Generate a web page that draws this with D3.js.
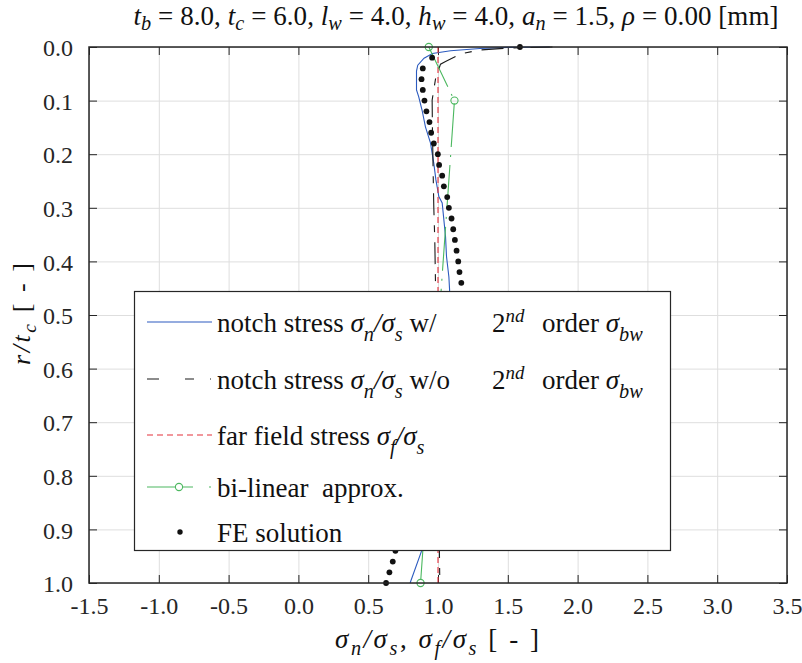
<!DOCTYPE html>
<head>
  <meta charset="utf-8">
  <script src="https://d3js.org/d3.v7.min.js"></script>
  <style>
    body { margin: 0; background: white; }
    svg { font-family: "Liberation Serif", serif; }
    .grid line { stroke: #dedede; stroke-width: 1px; }
    .grid path { display: none; }
    .ax path { display: none; }
    .ax line { stroke: #262626; stroke-width: 1px; }
    .ax text { font-size: 24px; fill: #262626; font-family: "Liberation Serif", serif; }
  </style>
</head>
<body>
<script>
// tick labels
var xTicks = [-1.5, -1.0, -0.5, 0.0, 0.5, 1.0, 1.5, 2.0, 2.5, 3.0, 3.5];
var yTicks = [0.0, 0.1, 0.2, 0.3, 0.4, 0.5, 0.6, 0.7, 0.8, 0.9, 1.0];

// notch stress w/ 2nd order [sigma_n/sigma_s, r/tc]
var notchWith = [[1.80,0.0],[1.50,0.0007],[1.30,0.0028],[1.09,0.007],[0.96,0.012],[0.90,0.021],
  [0.855,0.034],[0.846,0.045],[0.846,0.080],[0.862,0.093],[0.886,0.118],[0.910,0.149],[0.946,0.179],
  [0.970,0.217],[0.985,0.248],[0.994,0.261],[1.006,0.279],[1.030,0.291],[1.054,0.354],[1.061,0.391],
  [1.078,0.429],[1.083,0.453],[1.080,0.55],[1.030,0.70],[0.950,0.85],[0.880,0.942],[0.800,1.0]];

// notch stress w/o 2nd order
var notchWithout = [[1.82,0.0],[1.50,0.002],[1.30,0.0056],[1.16,0.013],[1.054,0.027],[1.018,0.032],
  [0.982,0.060],[0.958,0.099],[0.960,0.150],[0.965,0.230],[0.970,0.300],[0.977,0.360],[0.982,0.440],
  [0.990,0.60],[1.000,0.80],[1.010,0.94],[1.013,1.0]];

// far field stress
var farField = [[1.0,0.0],[1.0,1.0]];

// bi-linear approx
var biLinear = [[0.934,0.0],[1.118,0.1],[0.875,1.0]];

// FE solution
var feR = [0.00,0.02,0.04,0.06,0.08,0.10,0.12,0.14,0.16,0.18,0.20,0.22,0.24,0.26,0.28,0.30,0.32,0.34,0.36,0.38,0.40,0.42,0.44,
  0.94,0.96,0.98,1.00];
var feX = [1.587,0.958,0.891,0.882,0.891,0.903,0.917,0.939,0.951,0.970,0.999,1.008,1.030,1.042,1.066,1.078,1.097,1.109,1.121,1.133,1.145,1.154,1.167,
  0.695,0.676,0.652,0.628];

var W = 802, H = 663;
var pl = 89, pr = 787, pt = 47, pb = 583;

var svg = d3.select("body").append("svg")
  .attr("width", W)
  .attr("height", H);

var x = d3.scaleLinear().domain([-1.5, 3.5]).range([pl, pr]);
var y = d3.scaleLinear().domain([0, 1]).range([pt, pb]);

// grid
svg.append("g").attr("class", "grid")
  .attr("transform", "translate(0," + pt + ")")
  .call(d3.axisTop(x).tickValues(xTicks).tickSize(-(pb - pt)).tickFormat(""));
svg.append("g").attr("class", "grid")
  .attr("transform", "translate(" + pl + ",0)")
  .call(d3.axisLeft(y).tickValues(yTicks).tickSize(-(pr - pl)).tickFormat(""));

// axes with inside ticks
var fmt = d3.format(".1f");
svg.append("g").attr("class", "ax")
  .attr("transform", "translate(0," + pb + ")")
  .call(d3.axisBottom(x).tickValues(xTicks).tickSizeInner(-8).tickSizeOuter(0).tickPadding(14)
    .tickFormat(function(d) { return fmt(d).replace("\u2212", "-"); }));
svg.append("g").attr("class", "ax")
  .attr("transform", "translate(0," + pt + ")")
  .call(d3.axisTop(x).tickValues(xTicks).tickSizeInner(-8).tickSizeOuter(0).tickFormat(""));
svg.append("g").attr("class", "ax yax")
  .attr("transform", "translate(" + pl + ",0)")
  .call(d3.axisLeft(y).tickValues(yTicks).tickSizeInner(-8).tickSizeOuter(0).tickPadding(16).tickFormat(fmt));
svg.append("g").attr("class", "ax")
  .attr("transform", "translate(" + pr + ",0)")
  .call(d3.axisRight(y).tickValues(yTicks).tickSizeInner(-8).tickSizeOuter(0).tickFormat(""));

svg.selectAll(".yax .tick text").attr("dy", "0.36em");

var line = d3.line().x(function(d) { return x(d[0]); }).y(function(d) { return y(d[1]); });

var plot = svg.append("g");
plot.append("path").datum(notchWith).attr("d", line)
  .attr("fill", "none").attr("stroke", "#2c5bbf").attr("stroke-width", 1.1);
plot.append("path").datum(notchWithout).attr("d", line)
  .attr("fill", "none").attr("stroke", "#1a1a1a").attr("stroke-width", 1.1)
  .attr("stroke-dasharray", "22,10,7,10");
plot.append("path").datum(farField).attr("d", line)
  .attr("fill", "none").attr("stroke", "#e4303b").attr("stroke-width", 1.1)
  .attr("stroke-dasharray", "6,4");
plot.append("path").datum(biLinear).attr("d", line)
  .attr("fill", "none").attr("stroke", "#4cb860").attr("stroke-width", 1.1)
  .attr("stroke-dasharray", "44,8,2,8");
plot.selectAll("circle.bl").data(biLinear).enter().append("circle")
  .attr("class", "bl")
  .attr("cx", function(d) { return x(d[0]); })
  .attr("cy", function(d) { return y(d[1]); })
  .attr("r", 3.6)
  .attr("fill", "none").attr("stroke", "#4cb860").attr("stroke-width", 1.1);
plot.selectAll("circle.fe").data(feR).enter().append("circle")
  .attr("class", "fe")
  .attr("cx", function(d, i) { return x(feX[i]); })
  .attr("cy", function(d) { return y(d); })
  .attr("r", 2.9)
  .attr("fill", "#111");

// frame
svg.append("rect")
  .attr("x", pl).attr("y", pt)
  .attr("width", pr - pl).attr("height", pb - pt)
  .attr("fill", "none").attr("stroke", "#262626").attr("stroke-width", 1.5);

// rich text helper: parts = [text, kind, x]  kind: "" roman, "i" italic, "sub", "sup"
function rich(g, parts, subShift) {
  var shift = 0;
  parts.forEach(function(p) {
    var t = g.append("tspan").text(p[0]);
    var target = 0;
    if (p[1] === "i") t.attr("font-style", "italic");
    if (p[1] === "sub") { t.attr("font-style", "italic").attr("font-size", "0.75em"); target = subShift || 7; }
    if (p[1] === "sup") { t.attr("font-style", "italic").attr("font-size", "0.7em"); target = -10; }
    if (target !== shift) t.attr("dy", target - shift);
    shift = target;
    if (p[2] !== undefined) t.attr("x", p[2]);
  });
}

// title
var title = svg.append("text")
  .attr("x", 456).attr("y", 25)
  .attr("text-anchor", "middle")
  .attr("font-size", 27).attr("fill", "#111")
  .attr("textLength", 645).attr("lengthAdjust", "spacing");
rich(title, [["t","i"],["b","sub"],[" = 8.0, ",""],["t","i"],["c","sub"],[" = 6.0, ",""],
  ["l","i"],["w","sub"],[" = 4.0, ",""],["h","i"],["w","sub"],[" = 4.0, ",""],
  ["a","i"],["n","sub"],[" = 1.5, ",""],["\u03c1","i"],[" = 0.00 [mm]",""]], 5);

// x label
var xl = svg.append("text")
  .attr("x", 437).attr("y", 648)
  .attr("text-anchor", "middle")
  .attr("font-size", 27).attr("fill", "#111")
  .attr("textLength", 204).attr("lengthAdjust", "spacing");
rich(xl, [["\u03c3","i"],["n","sub"],["/","i"],["\u03c3","i"],["s","sub"],[", ",""],["\u03c3","i"],["f","sub"],["/","i"],["\u03c3","i"],["s","sub"],[" [ - ]",""]], 7);

// y label
var yl = svg.append("text")
  .attr("transform", "translate(30,314) rotate(-90)")
  .attr("text-anchor", "middle")
  .attr("font-size", 26).attr("fill", "#111")
  .attr("textLength", 102).attr("lengthAdjust", "spacing");
rich(yl, [["r/t","i"],["c","sub"],[" [ - ]",""]], 6);

// legend
var lg = svg.append("g");
lg.append("rect")
  .attr("x", 134.5).attr("y", 291.5).attr("width", 536).attr("height", 259)
  .attr("fill", "white").attr("stroke", "#262626").attr("stroke-width", 1.2);

var rowY = [322, 379, 435, 487, 532];
var lx0 = 147, lx1 = 212, tx = 217;

lg.append("line").attr("x1", lx0).attr("x2", lx1).attr("y1", rowY[0]).attr("y2", rowY[0])
  .attr("stroke", "#2c5bbf").attr("stroke-width", 1.1);
lg.append("line").attr("x1", lx0).attr("x2", lx1).attr("y1", rowY[1]).attr("y2", rowY[1])
  .attr("stroke", "#1a1a1a").attr("stroke-width", 1.1).attr("stroke-dasharray", "12,26,9,16,1,10");
lg.append("line").attr("x1", lx0).attr("x2", lx1).attr("y1", rowY[2]).attr("y2", rowY[2])
  .attr("stroke", "#e4303b").attr("stroke-width", 1.1).attr("stroke-dasharray", "6,4");
lg.append("line").attr("x1", lx0).attr("x2", lx1).attr("y1", rowY[3]).attr("y2", rowY[3])
  .attr("stroke", "#4cb860").attr("stroke-width", 1.1).attr("stroke-dasharray", "46,16,2,10");
lg.append("circle").attr("cx", 179).attr("cy", rowY[3]).attr("r", 3.6)
  .attr("fill", "white").attr("stroke", "#4cb860").attr("stroke-width", 1.1);
lg.append("circle").attr("cx", 180).attr("cy", rowY[4]).attr("r", 2.7).attr("fill", "#111");

var labels = [
  [["notch stress ",""],["\u03c3","i"],["n","sub"],["/\u03c3","i"],["s","sub"],[" w/",""],["2","",492],["nd","sup"],["order ","",542],["\u03c3","i"],["bw","sub"]],
  [["notch stress ",""],["\u03c3","i"],["n","sub"],["/\u03c3","i"],["s","sub"],[" w/o",""],["2","",492],["nd","sup"],["order ","",542],["\u03c3","i"],["bw","sub"]],
  [["far field stress ",""],["\u03c3","i"],["f","sub"],["/\u03c3","i"],["s","sub"]],
  [["bi-linear  approx.",""]],
  [["FE solution",""]]
];
labels.forEach(function(parts, i) {
  var t = lg.append("text")
    .attr("x", tx).attr("y", rowY[i] + 10)
    .attr("font-size", 27).attr("fill", "#111")
    .attr("xml:space", "preserve");
  rich(t, parts, 9);
});
</script>
</body>
